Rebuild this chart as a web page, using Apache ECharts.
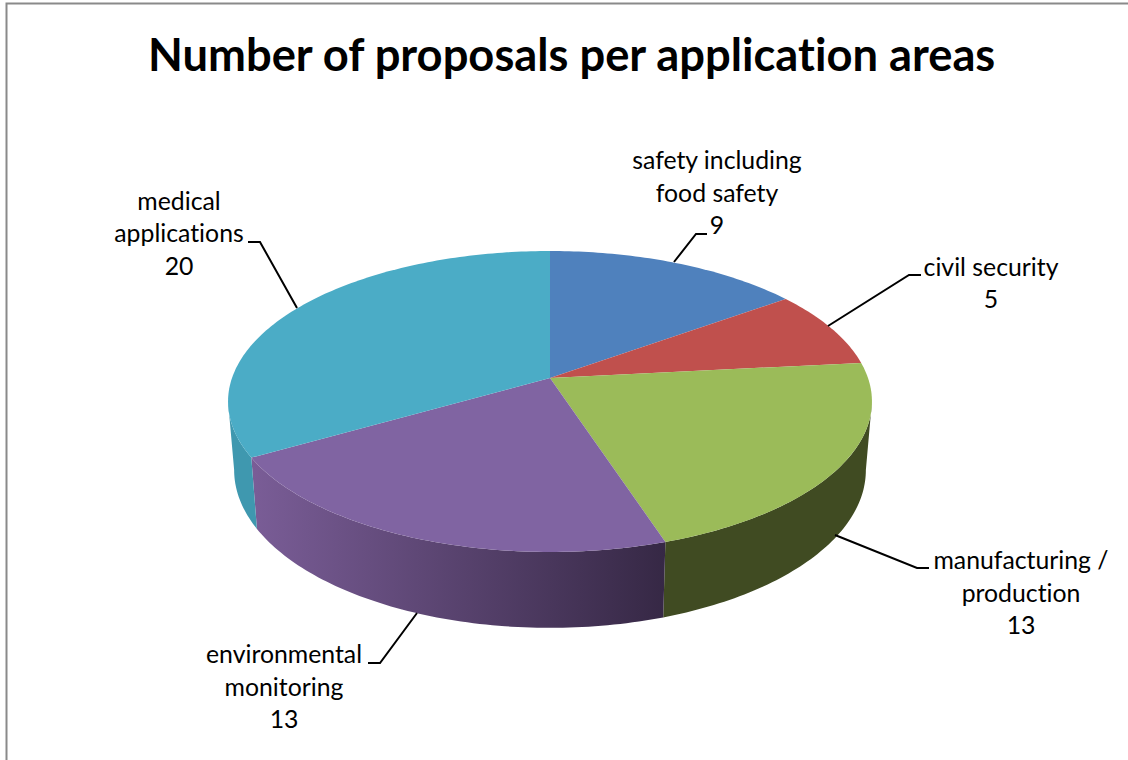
<!DOCTYPE html>
<html>
<head>
<meta charset="utf-8">
<style>html,body{margin:0;padding:0;background:#fff}#c{width:1128px;height:760px}#c text{font-variant-ligatures:none}</style>
<script src="https://cdn.jsdelivr.net/npm/echarts@6/dist/echarts.min.js"></script>
</head>
<body>
<div id="c"></div>
<script>
var titleText = 'Number of proposals per application areas';
var categories = ['safety including\nfood safety', 'civil security', 'manufacturing /\nproduction', 'environmental\nmonitoring', 'medical\napplications'];
var values = [9, 5, 13, 13, 20];
var topColors = ['#4f81bd', '#c0504d', '#9bbb59', '#8064a2', '#4bacc6'];
var wallColors = [
  ['#3b618e', '#3b618e'],
  ['#903c3a', '#903c3a'],
  ['#404b22', '#404b22'],
  ['#362845', '#7a5d97'],
  ['#3f98af', '#3f98af']
];

// Perspective model of the disc
var cx = 550, k = 0.156;
var topDisc = { y: 378, X: 318, R: 146.8 };
var botDisc = { y: 445.4, X: 312, R: 154 };
var total = values.reduce(function (a, b) { return a + b; }, 0);

function project(d, deg) {
  var t = deg * Math.PI / 180, s = Math.sin(t), c = Math.cos(t), w = 1 + k * c;
  return [cx + d.X * s / w, d.y - d.R * c / w];
}
function startDeg(i) {
  var sum = 0;
  for (var j = 0; j < i; j++) sum += values[j];
  return sum / total * 360;
}
function arc(d, a, b) {
  var pts = [], n = Math.max(2, Math.ceil(Math.abs(b - a)));
  for (var i = 0; i <= n; i++) pts.push(project(d, a + (b - a) * i / n));
  return pts;
}
var tangent = Math.acos(-k) * 180 / Math.PI;
var frontFrom = tangent, frontTo = 360 - tangent;

var labelLayout = [
  { x: 717, y: 192, line: [[674, 262], [696, 234], [707, 234]] },
  { x: 991, y: 282.5, line: [[828, 326], [909, 275], [921, 275]] },
  { x: 1021, y: 592, line: [[835, 535], [917, 568], [929, 568]] },
  { x: 284, y: 686, line: [[417, 613], [380, 663], [368, 663]] },
  { x: 179, y: 232.5, line: [[297, 308], [260, 242], [248, 242]] }
];

var chart = echarts.init(document.getElementById('c'), null, { renderer: 'svg' });
chart.setOption({
  animation: false,
  backgroundColor: '#fff',
  title: {
    text: titleText, left: 143, top: 26,
    textStyle: { fontFamily: 'Lato', fontWeight: 'bold', fontSize: 45.3, color: '#000' }
  },
  graphic: [{
    type: 'polyline', z: 0, silent: true,
    shape: { points: [[6.5, 760], [6.5, 3.5], [1128, 3.5]] },
    style: { stroke: '#8a8a8a', lineWidth: 2, fill: null }
  }],
  series: [
    {
      type: 'custom', coordinateSystem: 'none', z: 1, silent: true,
      data: values,
      renderItem: function (p) {
        var i = p.dataIndex;
        var a = Math.max(startDeg(i), frontFrom);
        var b = Math.min(startDeg(i + 1), frontTo);
        if (b <= a) return null;
        var pts = arc(topDisc, a, b).concat(arc(botDisc, b, a));
        return {
          type: 'polygon',
          shape: { points: pts },
          style: {
            stroke: null,
            fill: {
              type: 'linear', x: 0, y: 0, x2: 1, y2: 0,
              colorStops: [
                { offset: 0, color: wallColors[i][1] },
                { offset: 1, color: wallColors[i][0] }
              ]
            }
          }
        };
      }
    },
    {
      type: 'custom', coordinateSystem: 'none', z: 2, silent: true,
      data: values,
      renderItem: function (p) {
        var i = p.dataIndex;
        var pts = [[cx, topDisc.y]].concat(arc(topDisc, startDeg(i), startDeg(i + 1)));
        return { type: 'polygon', shape: { points: pts }, style: { fill: topColors[i], stroke: null } };
      }
    },
    {
      type: 'custom', coordinateSystem: 'none', z: 3, silent: true,
      data: values,
      renderItem: function (p, api) {
        var i = p.dataIndex, l = labelLayout[i];
        return {
          type: 'group',
          children: [
            { type: 'polyline', shape: { points: l.line }, style: { stroke: '#000', lineWidth: 2, fill: null } },
            {
              type: 'text', x: l.x, y: l.y,
              style: {
                text: categories[i] + '\n' + api.value(0),
                fontFamily: 'Lato', fontSize: 24.8, lineHeight: 32.5,
                fill: '#000', align: 'center', verticalAlign: 'middle'
              }
            }
          ]
        };
      }
    }
  ]
});
</script>
</body>
</html>
